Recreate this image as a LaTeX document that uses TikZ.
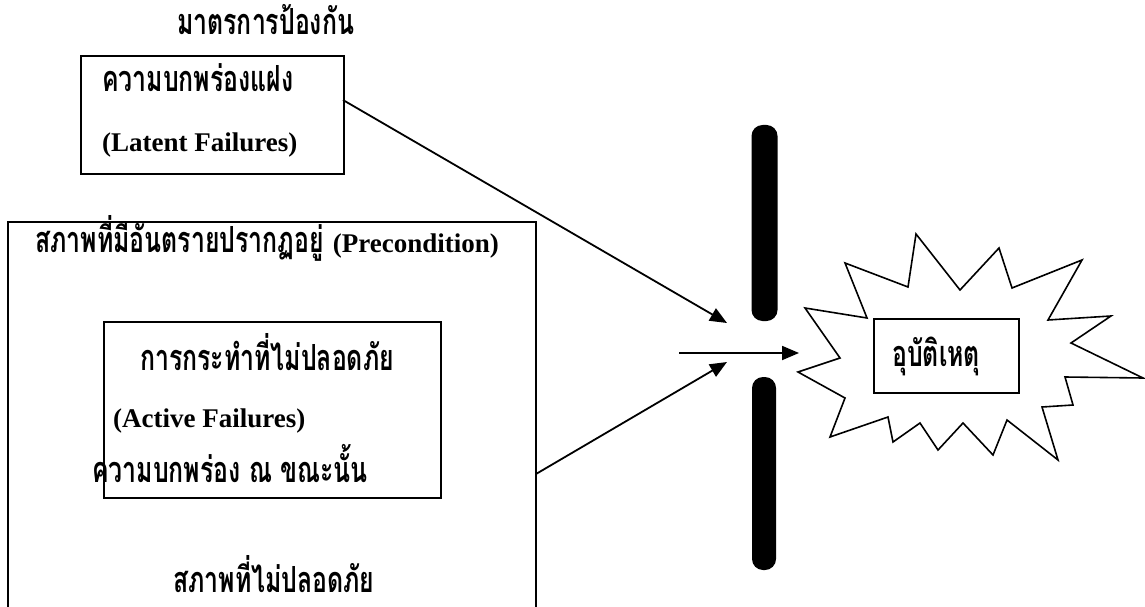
\documentclass[tikz,border=0pt]{standalone}
\usepackage{fontspec}
\setmainfont{Liberation Serif}
\newfontfamily\thai[Script=Thai,FakeStretch=0.69]{Loma}
\usetikzlibrary{arrows.meta}
\newcommand{\thx}[1]{{\thai\bfseries #1}}
\begin{document}
\begin{tikzpicture}[x=1pt,y=-1pt,
  box/.style={draw, line width=1.8pt, inner sep=0pt},
  lbl/.style={anchor=base west, inner sep=0pt, font=\fontsize{36}{36}\selectfont},
  lat/.style={anchor=base west, inner sep=0pt, font=\fontsize{27}{27}\selectfont\bfseries},
  conn/.style={line width=1.8pt, -{Triangle[length=17pt,width=14pt]}},
  bar/.style={fill=black, draw=none, rounded corners=11pt, inner sep=0pt},
  burst/.style={draw, line width=1.6pt, line join=miter}]
\useasboundingbox (0,0) rectangle (1145,607);
% top box
\node[box, anchor=north west, minimum width=263pt, minimum height=118pt] (latent) at (80,55) {};
\node[lbl] (t1) at (177,35) {\thx{มาตรการป้องกัน}};
\node[lbl] (t2) at (102,92) {\thx{ความบกพร่องแฝง}};
\node[lat] (t3) at (102,151) {(Latent Failures)};
% big open box
\coordinate (bb1) at (8,607);
\coordinate (bb2) at (8,222);
\coordinate (bb3) at (536,222);
\coordinate (bb4) at (536,607);
\draw[line width=1.8pt] (bb1) -- (bb2) -- (bb3) -- (bb4);
\node[lbl] (t4) at (35,252) {\thx{สภาพที่มีอันตรายปรากฏอยู่} \textbf{\fontsize{27}{27}\selectfont(Precondition)}};
% inner box
\node[box, anchor=north west, minimum width=337pt, minimum height=176pt] (active) at (103,321) {};
\node[lbl] (t5) at (140,370) {\thx{การกระทำที่ไม่ปลอดภัย}};
\node[lat] (t6) at (113,427) {(Active Failures)};
\node[lbl] (t7) at (92,482) {\thx{ความบกพร่อง ณ ขณะนั้น}};
\node[lbl] (t8) at (173,592) {\thx{สภาพที่ไม่ปลอดภัย}};
% barriers
\node[bar, minimum width=26pt, minimum height=196pt] (bar1) at (764.5,223) {};
\node[bar, minimum width=24pt, minimum height=193pt] (bar2) at (764,473.5) {};
% starburst
\draw[burst] (916,234) -- (960,290) -- (999,248) -- (1012,288) -- (1082,260)
  -- (1048,320) -- (1111,316) -- (1071,343) -- (1143,378) -- (1065,377)
  -- (1073,405) -- (1042,407) -- (1058,460) -- (1007,420) -- (993,455)
  -- (963,423) -- (938,450) -- (920,423) -- (893,442) -- (888,417)
  -- (830,437) -- (845,398) -- (798,372) -- (840,358) -- (805,308)
  -- (867,318) -- (845,263) -- (908,287) -- cycle;
\node[box, line width=1.6pt, fill=white, anchor=north west, minimum width=145pt, minimum height=74pt] (acc) at (873,318) {};
\node[lbl] (t9) at (892,366) {\thx{อุบัติเหตุ}};
% connectors
\coordinate (s1) at (343,100);
\coordinate (e1) at (727,323);
\coordinate (s2) at (536,474);
\coordinate (e2) at (727,362);
\coordinate (s3) at (679,353);
\coordinate (e3) at (799,353);
\draw[conn] (s1) -- (e1);
\draw[conn] (s2) -- (e2);
\draw[conn] (s3) -- (e3);
\end{tikzpicture}
\end{document}
